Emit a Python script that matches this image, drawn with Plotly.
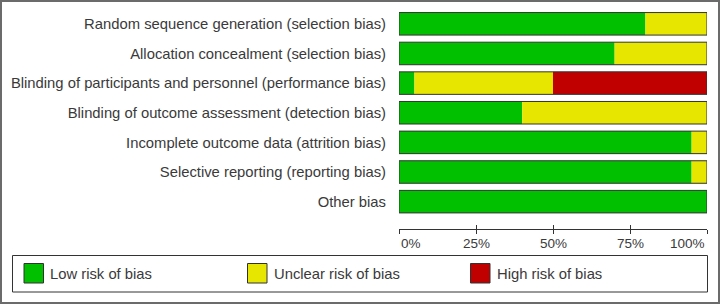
import plotly.graph_objects as go

# ---- data ----
categories = [
    "Random sequence generation (selection bias)",
    "Allocation concealment (selection bias)",
    "Blinding of participants and personnel (performance bias)",
    "Blinding of outcome assessment (detection bias)",
    "Incomplete outcome data (attrition bias)",
    "Selective reporting (reporting bias)",
    "Other bias",
]
low_risk = [80, 70, 5, 40, 95, 95, 100]
unclear_risk = [20, 30, 45, 60, 5, 5, 0]
high_risk = [0, 0, 50, 0, 0, 0, 0]
series_names = ["Low risk of bias", "Unclear risk of bias", "High risk of bias"]
series_colors = ["#00c000", "#e6e600", "#c00000"]
tick_values = [0, 25, 50, 75, 100]
tick_labels = ["0%", "25%", "50%", "75%", "100%"]

# ---- layout geometry (pixels) ----
W_FIG, H_FIG = 720, 304
L, R, T, B = 399, 13, 9, 75
PW = W_FIG - L - R
PH = H_FIG - T - B


def xp(px):
    return (px - L) / PW


def yp(py):
    return (H_FIG - B - py) / PH


FONT = "Liberation Sans, Arial, sans-serif"
TXT = "#3a3a3a"
DARK = "#333333"
LABEL_SIZE = 14.8

fig = go.Figure()

bases = [
    [0] * len(categories),
    low_risk,
    [a + b for a, b in zip(low_risk, unclear_risk)],
]
values = [low_risk, unclear_risk, high_risk]
for name, color, vals, base in zip(series_names, series_colors, values, bases):
    fig.add_trace(go.Bar(
        y=categories, x=vals, base=base, orientation="h", name=name,
        marker=dict(color=color, line=dict(width=0)), width=0.76,
        showlegend=False, hoverinfo="x+name",
    ))

totals = [a + b + c for a, b, c in zip(low_risk, unclear_risk, high_risk)]
fig.add_trace(go.Bar(
    y=categories, x=totals, base=[0] * len(categories), orientation="h",
    marker=dict(color="rgba(0,0,0,0)", line=dict(width=1, color=DARK)),
    width=0.76, showlegend=False, hoverinfo="skip",
))
# invisible trace for secondary axis (inside ticks)
fig.add_trace(go.Scatter(x=[0, 100], y=[categories[0], categories[0]], xaxis="x2",
                         mode="markers", marker=dict(opacity=0), showlegend=False,
                         hoverinfo="skip"))

fig.update_layout(
    width=W_FIG, height=H_FIG,
    margin=dict(l=L, r=R, t=T, b=B, pad=0),
    paper_bgcolor="white", plot_bgcolor="white",
    barmode="overlay",
    font=dict(family=FONT, size=14, color=TXT),
    showlegend=False,
    xaxis=dict(range=[0, 100], tickvals=tick_values, showticklabels=False,
               ticks="outside", ticklen=4, tickwidth=1, tickcolor=DARK,
               showline=True, linecolor=DARK, linewidth=1,
               showgrid=False, zeroline=False, fixedrange=True),
    xaxis2=dict(range=[0, 100], tickvals=tick_values, showticklabels=False,
                ticks="inside", ticklen=4, tickwidth=1, tickcolor=DARK,
                overlaying="x", side="bottom", anchor="y",
                showline=False, showgrid=False, zeroline=False),
    yaxis=dict(type="category", range=[(PH / 29.64) - 0.5, -0.5],
               showgrid=False, zeroline=False, showline=False, ticks="",
               ticklabelstandoff=12,
               tickfont=dict(family=FONT, size=LABEL_SIZE, color=TXT), fixedrange=True),
)

annotations = []
for v, lab in zip(tick_values, tick_labels):
    anchor = "left" if v == tick_values[0] else ("right" if v == tick_values[-1] else "center")
    annotations.append(dict(x=v, y=yp(243.5), xref="x", yref="paper", text=lab,
                            showarrow=False, xanchor=anchor, yanchor="middle",
                            font=dict(family=FONT, size=13.5, color=TXT)))

shapes = []
# outer frame
shapes.append(dict(type="rect", xref="paper", yref="paper",
                   x0=xp(1), x1=xp(719), y0=yp(1), y1=yp(303),
                   line=dict(color="#6b6b6b", width=2), fillcolor="rgba(0,0,0,0)", layer="below"))
# legend box
shapes.append(dict(type="rect", xref="paper", yref="paper",
                   x0=xp(12.5), x1=xp(707.5), y0=yp(255.5), y1=yp(292),
                   line=dict(color=DARK, width=1), fillcolor="white"))
legend_x = [24, 247.5, 470.5]
for lx, name, color in zip(legend_x, series_names, series_colors):
    shapes.append(dict(type="rect", xref="paper", yref="paper",
                       x0=xp(lx), x1=xp(lx + 19.5), y0=yp(263.5), y1=yp(283),
                       line=dict(color=DARK, width=1), fillcolor=color))
    annotations.append(dict(x=xp(lx + 24), y=yp(273.5), xref="paper", yref="paper",
                            text=name, showarrow=False, xanchor="left", yanchor="middle",
                            font=dict(family=FONT, size=LABEL_SIZE, color=TXT)))

fig.update_layout(shapes=shapes, annotations=annotations)

fig.write_html("out.html", config={"displayModeBar": False})
